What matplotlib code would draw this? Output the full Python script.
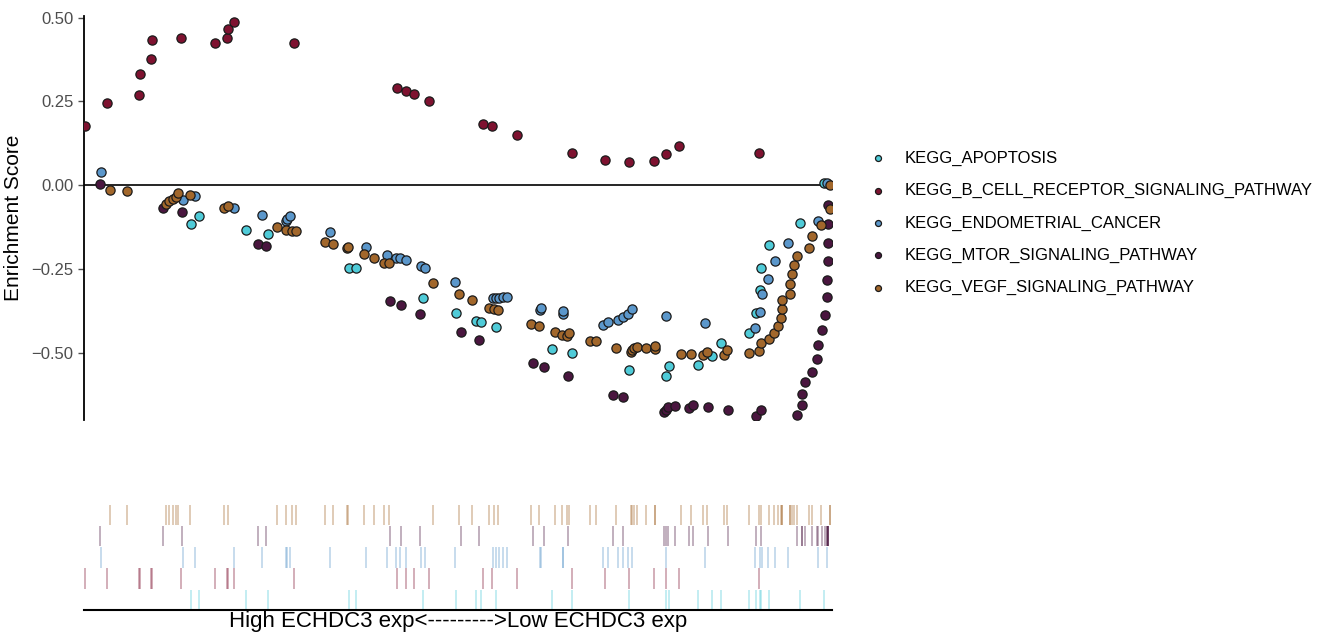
import matplotlib
matplotlib.use("Agg")
import matplotlib.pyplot as plt
import numpy as np

plt.rcParams['font.family'] = ['Liberation Sans', 'DejaVu Sans']

# gene-set names and colours
sets = ['KEGG_APOPTOSIS', 'KEGG_B_CELL_RECEPTOR_SIGNALING_PATHWAY',
        'KEGG_ENDOMETRIAL_CANCER', 'KEGG_MTOR_SIGNALING_PATHWAY',
        'KEGG_VEGF_SIGNALING_PATHWAY']
colors = ['#4FCBD8', '#7E1230', '#5B97CB', '#4A163F', '#A2672B']

# rank position (0..748) of each hit and the running enrichment score there
apop_x = [106.7, 115, 161.7, 184, 265.3, 272, 338.7, 371.7, 392.3, 397.3, 411.7, 468, 488.3,
          544.7, 581.7, 585.3, 613.7, 628.3, 637.3, 665.3, 671.7, 676, 677.3, 684.7, 715.7, 740]
apop_es = [-0.114, -0.093, -0.134, -0.146, -0.248, -0.248, -0.336, -0.381, -0.404, -0.409, -0.423,
           -0.487, -0.501, -0.551, -0.568, -0.540, -0.535, -0.508, -0.470, -0.441, -0.381, -0.313,
           -0.246, -0.178, -0.113, 0.008]

bcell_x = [1.3, 23, 55.3, 55.5, 67, 67.7, 97, 131, 143.3, 144.3, 150.3, 209.7, 313, 321.7, 329.7,
           345.3, 399, 408, 433.3, 487.7, 521, 545, 569.7, 581.7, 594.7, 675]
bcell_es = [0.176, 0.245, 0.268, 0.333, 0.376, 0.433, 0.438, 0.425, 0.439, 0.467, 0.487, 0.424,
            0.290, 0.282, 0.273, 0.252, 0.183, 0.177, 0.151, 0.096, 0.075, 0.070, 0.072, 0.094,
            0.118, 0.095]

endo_x = [17.3, 99.3, 111, 150.3, 177.7, 202, 202.7, 205.7, 246.3, 282.3, 303.3, 312, 316.3, 322,
          337, 341, 371.3, 408.7, 412, 415.3, 418.7, 422.7, 456, 457.3, 478.7, 479.3, 518.7, 524,
          533.7, 538.7, 543.7, 547.7, 581.7, 621.3, 670.7, 675.7, 677.7, 684.3, 691, 704, 734.3, 742.7]
endo_es = [0.040, -0.043, -0.033, -0.067, -0.090, -0.106, -0.099, -0.092, -0.139, -0.183, -0.207,
           -0.216, -0.218, -0.224, -0.242, -0.247, -0.287, -0.337, -0.336, -0.335, -0.334, -0.333,
           -0.373, -0.366, -0.383, -0.376, -0.416, -0.407, -0.402, -0.393, -0.383, -0.369, -0.390,
           -0.411, -0.425, -0.378, -0.325, -0.278, -0.225, -0.171, -0.107, 0.006]

mtor_x = [16, 79, 98, 173.7, 181.7, 306, 316.7, 335.7, 377.3, 394.7, 448.7, 459.7, 484, 529.3, 539,
          580.3, 581.7, 583.7, 591, 604.7, 609, 624.3, 643.7, 672, 677, 713, 717.7, 718.3, 721.3,
          728.3, 733.5, 734, 737.7, 741, 743.3, 743.5, 743.7, 743.9, 744.2, 744.4]
mtor_es = [0.004, -0.068, -0.081, -0.176, -0.181, -0.345, -0.358, -0.383, -0.439, -0.462, -0.531,
           -0.542, -0.570, -0.624, -0.630, -0.677, -0.670, -0.660, -0.657, -0.664, -0.655, -0.662,
           -0.670, -0.687, -0.670, -0.684, -0.655, -0.621, -0.588, -0.556, -0.519, -0.475, -0.431,
           -0.386, -0.334, -0.281, -0.227, -0.171, -0.116, -0.060]

vegf_x = [25.7, 42.7, 82.3, 85.3, 89.3, 91.5, 93.7, 106, 140, 143.7, 192.7, 201.7, 208.3, 212,
          240.7, 248.7, 262.7, 264.3, 280.3, 290.3, 300.3, 304.7, 349.3, 375, 388.3, 405.3, 410.3,
          413.7, 446.7, 455, 471, 478.3, 482.7, 485.3, 506, 511.7, 532, 546.7, 548.3, 550.3, 552.7,
          562, 571.3, 571.3, 596.7, 607, 619.3, 622.7, 640, 643.3, 665.3, 675, 676.7, 685.3, 690,
          694.3, 696.7, 698, 698.3, 706, 706.3, 707.7, 709.7, 713.3, 724.7, 728, 737, 746, 746]
vegf_es = [-0.014, -0.018, -0.056, -0.047, -0.042, -0.034, -0.023, -0.028, -0.067, -0.063, -0.124,
           -0.132, -0.136, -0.136, -0.168, -0.174, -0.187, -0.184, -0.205, -0.216, -0.231, -0.232,
           -0.292, -0.325, -0.343, -0.365, -0.368, -0.371, -0.413, -0.420, -0.438, -0.445, -0.448,
           -0.441, -0.464, -0.464, -0.485, -0.496, -0.490, -0.486, -0.481, -0.486, -0.488, -0.480,
           -0.502, -0.504, -0.507, -0.498, -0.505, -0.492, -0.500, -0.493, -0.471, -0.459, -0.441,
           -0.421, -0.397, -0.370, -0.343, -0.323, -0.295, -0.265, -0.237, -0.210, -0.188, -0.152,
           -0.119, -0.072, 0.000]

xs = [apop_x, bcell_x, endo_x, mtor_x, vegf_x]
ess = [apop_es, bcell_es, endo_es, mtor_es, vegf_es]
n_rank = 748

fig = plt.figure(figsize=(13.26, 6.37), dpi=100)
ax = fig.add_axes([84/1326, 1-420/637, 748/1326, 404/637])
rug = fig.add_axes([84/1326, 1-610/637, 748/1326, 106/637])

ax.axhline(0, color='black', lw=1.2, zorder=1)
for name, c, x, y in zip(sets, colors, xs, ess):
    ax.scatter(x, y, s=44, c=c, edgecolors='#1a1a1a', linewidths=0.9, label=name, zorder=3)

ax.set_xlim(0, n_rank)
ax.set_ylim(-0.70, 0.505)
ax.set_yticks([-0.5, -0.25, 0, 0.25, 0.5])
ax.set_yticklabels(['\u22120.50', '\u22120.25', '0.00', '0.25', '0.50'])
ax.tick_params(axis='y', labelsize=12, colors='#4D4D4D', length=4, width=1)
ax.tick_params(axis='x', bottom=False, labelbottom=False)
for s in ['top', 'right', 'bottom']:
    ax.spines[s].set_visible(False)
ax.spines['left'].set_linewidth(1.3)
ax.set_ylabel('Enrichment Score', fontsize=15, labelpad=6)

# hit rug: one row per gene set, APOPTOSIS at the bottom
for i, (c, x) in enumerate(zip(colors, xs)):
    rug.vlines(x, i, i + 0.96, colors=c, alpha=0.4, lw=1.2)
rug.set_xlim(0, n_rank)
rug.set_ylim(0, 5)
rug.set_yticks([])
rug.set_xticks([])
for s in ['top', 'right', 'left']:
    rug.spines[s].set_visible(False)
rug.spines['bottom'].set_linewidth(1.5)
rug.set_xlabel('High ECHDC3 exp<--------->Low ECHDC3 exp', fontsize=16, labelpad=1)

handles, labels = ax.get_legend_handles_labels()
leg = fig.legend(handles, labels, loc='center left', bbox_to_anchor=(853/1326, 1-223/637),
                 frameon=False, fontsize=12, markerscale=0.65, labelspacing=1.03,
                 handletextpad=1.0, handlelength=1.2)

fig.savefig('out.png', dpi=100)
